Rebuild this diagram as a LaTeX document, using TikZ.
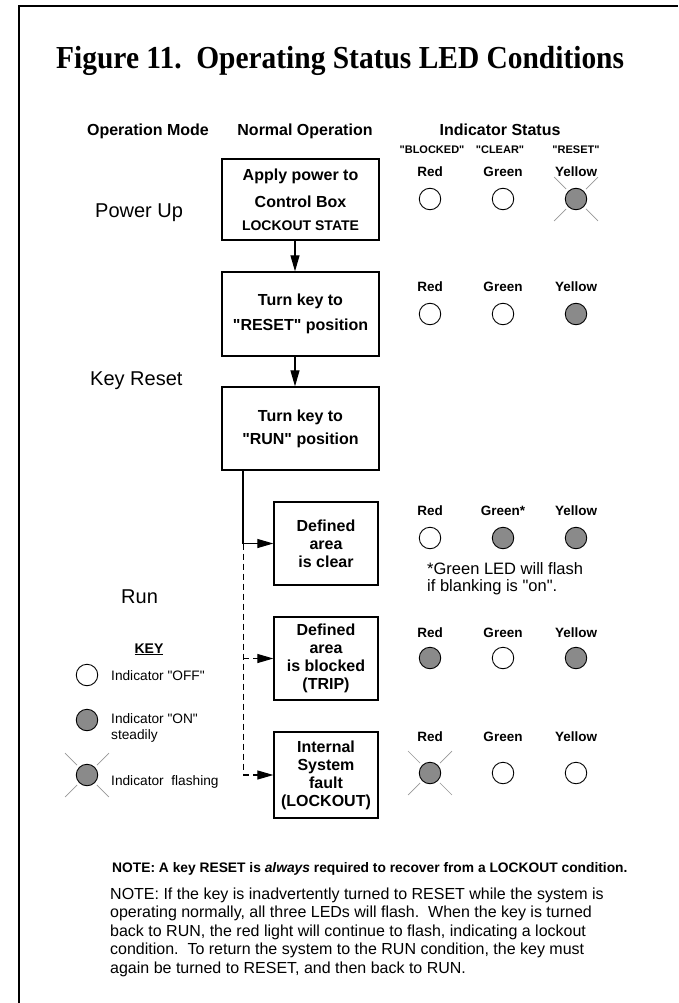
\documentclass[tikz,border=0pt]{standalone}
\usepackage{fontspec}
\usepackage{graphicx}
\setmainfont{Liberation Sans}
\newfontfamily\arial{Liberation Sans}
\newfontfamily\titlefont{Liberation Serif}
\usetikzlibrary{arrows.meta}
\definecolor{ledgray}{RGB}{138,138,138}
\definecolor{raygray}{RGB}{150,150,150}
\newcommand\fsz[1]{\arial\fontsize{#1}{#1}\selectfont}
\newcommand\ledrays[1]{\foreach \a in {45,135,225,315} \draw[ray] (#1.center) ++(\a:14) -- ++(\a:17);}
\begin{document}
\begin{tikzpicture}[x=1pt,y=-1pt,
  box/.style={draw, line width=1.3, inner sep=0, align=center, font=\arial\bfseries\fontsize{16}{18}\selectfont},
  led/.style={circle, draw, line width=0.9, minimum size=21.5, inner sep=0},
  ledon/.style={led, fill=ledgray},
  ray/.style={draw=raygray, line width=0.7},
  lbl/.style={font=\bfseries\fsz{13.5}, anchor=base, inner sep=0},
  hdr/.style={font=\bfseries\fsz{16}, anchor=base, inner sep=0},
  qlbl/.style={font=\bfseries\fsz{11}, anchor=base, inner sep=0},
  mode/.style={font=\fsz{20}, anchor=base west, inner sep=0},
  keytxt/.style={font=\fsz{13.7}, anchor=base west, inner sep=0},
  para/.style={font=\fsz{16}, anchor=base west, inner sep=0},
  arr/.style={line width=1.1, -{Triangle[length=16pt,width=9pt]}},
  dsh/.style={line width=1.0, dash pattern=on 6pt off 4pt}
]
\useasboundingbox (0,0) rectangle (678,1003);
% frame
\draw[line width=2.2] (19,1003) -- (19,6) -- (678,6);
% title
\node[anchor=base west, inner sep=0, font=\titlefont\bfseries\fsz{32}\titlefont] (title) at (56,69)
  {\scalebox{0.92}[1]{Figure 11.\ \ Operating Status LED Conditions}};
% headers
\node[hdr] (hmode) at (148,136) {Operation Mode};
\node[hdr] (hnorm) at (305,136) {Normal Operation};
\node[hdr] (hind) at (500,136) {Indicator Status};
\node[qlbl] (qb) at (432,154) {"BLOCKED"};
\node[qlbl] (qc) at (500,154) {"CLEAR"};
\node[qlbl] (qr) at (576,154) {"RESET"};
% modes
\node[mode] (mpow) at (95,217) {Power Up};
\node[mode] (mkey) at (90,385) {Key Reset};
\node[mode] (mrun) at (121,603) {Run};
% boxes
\node[box, minimum width=157, minimum height=81] (b1) at (300.5,199.5)
  {Apply power to\\[9pt]Control Box\\[5pt]{\fsz{14}\bfseries LOCKOUT STATE}};
\node[box, minimum width=157, minimum height=84] (b2) at (300.5,314)
  {Turn key to\\[7pt]"RESET" position};
\node[box, minimum width=157, minimum height=83] (b3) at (300.5,428.5)
  {Turn key to\\[5pt]"RUN" position};
\node[box, minimum width=104, minimum height=83] (b4) at (326,543.5)
  {Defined\\area\\is clear};
\node[box, minimum width=104, minimum height=83] (b5) at (326,658.5)
  {Defined\\area\\is blocked\\(TRIP)};
\node[box, minimum width=104, minimum height=86] (b6) at (326,775)
  {Internal\\System\\fault\\(LOCKOUT)};
% connectors
\coordinate (ax) at (295,0);
\draw[arr] (b1.south -| ax) -- (b2.north -| ax);
\draw[arr] (b2.south -| ax) -- (b3.north -| ax);
\coordinate (tr) at (243,543.5);
\draw[line width=1.1] (b3.south -| tr) -- (tr);
\draw[arr] (tr) -- (b4.west);
\draw[dsh] (tr) -- (tr |- b6.west);
\draw[dsh, arr] (tr |- b5.west) -- (b5.west);
\draw[dsh, arr] (tr |- b6.west) -- (b6.west);
% row 1
\node[lbl] (l1r) at (430,176) {Red};
\node[lbl] (l1g) at (503,176) {Green};
\node[lbl] (l1y) at (576,176) {Yellow};
\node[led] (r1) at (430,199) {};
\node[led] (g1) at (503,199) {};
\node[ledon] (y1) at (576,199) {};
\ledrays{y1}
% row 2
\node[lbl] (l2r) at (430,291) {Red};
\node[lbl] (l2g) at (503,291) {Green};
\node[lbl] (l2y) at (576,291) {Yellow};
\node[led] (r2) at (430,314) {};
\node[led] (g2) at (503,314) {};
\node[ledon] (y2) at (576,314) {};
% row 3
\node[lbl] (l3r) at (430,515) {Red};
\node[lbl] (l3g) at (503,515) {Green*};
\node[lbl] (l3y) at (576,515) {Yellow};
\node[led] (r3) at (430,538) {};
\node[ledon] (g3) at (503,538) {};
\node[ledon] (y3) at (576,538) {};
\node[font=\fsz{16.5}, anchor=base west, inner sep=0] (gn1) at (427,574) {*Green LED will flash};
\node[font=\fsz{16.5}, anchor=base west, inner sep=0] (gn2) at (427,591) {if blanking is "on".};
% row 4
\node[lbl] (l4r) at (430,637) {Red};
\node[lbl] (l4g) at (503,637) {Green};
\node[lbl] (l4y) at (576,637) {Yellow};
\node[ledon] (r4) at (430,658) {};
\node[led] (g4) at (503,658) {};
\node[ledon] (y4) at (576,658) {};
% row 5
\node[lbl] (l5r) at (430,741) {Red};
\node[lbl] (l5g) at (503,741) {Green};
\node[lbl] (l5y) at (576,741) {Yellow};
\node[ledon] (r5) at (430,773) {};
\ledrays{r5}
\node[led] (g5) at (503,773) {};
\node[led] (y5) at (576,773) {};
% key
\node[font=\bfseries\fsz{14}, anchor=base, inner sep=0] (key) at (149,653) {\underline{KEY}};
\node[led] (k1) at (87,675) {};
\node[keytxt] (k1t) at (111,680) {Indicator "OFF"};
\node[ledon] (k2) at (87,720) {};
\node[keytxt] (k2t) at (111,723) {Indicator "ON"};
\node[keytxt] (k2s) at (111,739) {steadily};
\node[ledon] (k3) at (87,775) {};
\ledrays{k3}
\node[keytxt] (k3t) at (111,785) {Indicator\ \ flashing};
% notes
\node[font=\bfseries\fsz{13.8}, anchor=base west, inner sep=0] (nb) at (112,872)
  {NOTE: A key RESET is \textit{always} required to recover from a LOCKOUT condition.};
\node[para] (p1) at (110,899) {NOTE: If the key is inadvertently turned to RESET while the system is};
\node[para] (p2) at (110,917.5) {operating normally, all three LEDs will flash.\ \ When the key is turned};
\node[para] (p3) at (110,936) {back to RUN, the red light will continue to flash, indicating a lockout};
\node[para] (p4) at (110,954.5) {condition.\ \ To return the system to the RUN condition, the key must};
\node[para] (p5) at (110,973) {again be turned to RESET, and then back to RUN.};
\end{tikzpicture}
\end{document}
